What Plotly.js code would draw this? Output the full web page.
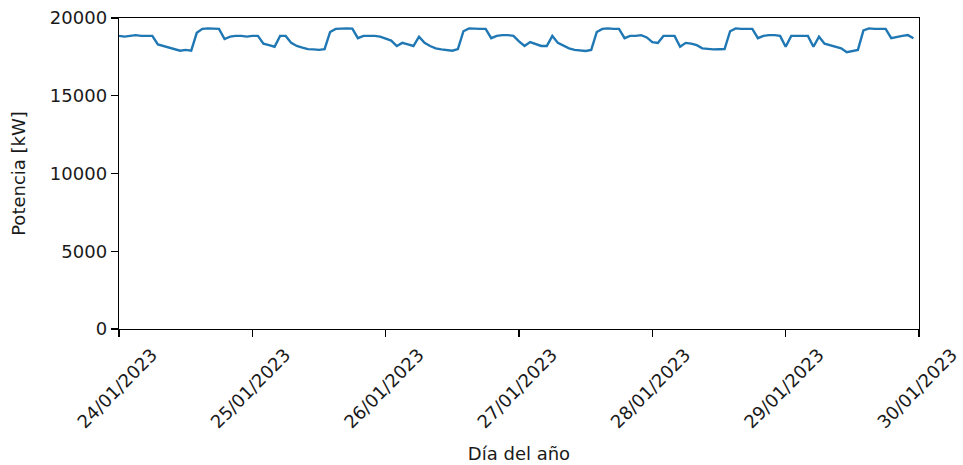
<!DOCTYPE html>
<html>
<head>
<meta charset="utf-8">
<script src="https://cdn.plot.ly/plotly-3.0.1.min.js"></script>
<style>html,body{margin:0;padding:0;background:#fff;}#chart{width:963px;height:465px;}</style>
</head>
<body>
<div id="chart"></div>
<script>
// Hourly power readings starting 24/01/2023 00:00
const startDate = "2023-01-24T00:00:00";
const potencia = [
  // 24/01
  18850,18800,18850,18900,18850,18850,18850,18300,18200,18100,18000,17900,
  17950,17900,19050,19300,19330,19300,19300,18650,18800,18850,18850,18800,
  // 25/01
  18850,18850,18350,18250,18150,18850,18850,18400,18200,18100,18000,17980,
  17950,18000,19100,19300,19330,19330,19320,18700,18850,18850,18850,18800,
  // 26/01
  18700,18550,18200,18400,18300,18200,18800,18400,18200,18050,17980,17930,
  17900,18000,19150,19330,19300,19300,19300,18700,18850,18900,18900,18850,
  // 27/01
  18500,18200,18450,18350,18200,18200,18850,18400,18200,18050,17950,17900,
  17880,17950,19100,19300,19330,19300,19300,18700,18850,18850,18900,18750,
  // 28/01
  18450,18400,18850,18850,18850,18150,18400,18350,18250,18050,18000,17980,
  17990,18000,19150,19330,19300,19300,19300,18700,18850,18900,18900,18850,
  // 29/01
  18150,18850,18850,18850,18850,18150,18800,18350,18250,18150,18050,17800,
  17900,17950,19200,19330,19300,19300,19300,18700,18800,18850,18900,18700
];
const tickDates = ["2023-01-24","2023-01-25","2023-01-26","2023-01-27","2023-01-28","2023-01-29","2023-01-30"];
const tickLabels = ["24/01/2023","25/01/2023","26/01/2023","27/01/2023","28/01/2023","29/01/2023","30/01/2023"];
const yTicks = [0,5000,10000,15000,20000];

const t0 = new Date(startDate + "Z").getTime();
const pad = n => String(n).padStart(2, "0");
const times = potencia.map((_, i) => {
  const d = new Date(t0 + i * 3600000);
  return d.getUTCFullYear() + "-" + pad(d.getUTCMonth()+1) + "-" + pad(d.getUTCDate()) + " " + pad(d.getUTCHours()) + ":00";
});

const font = {family: "DejaVu Sans", size: 18, color: "#1a1a1a"};
const trace = {
  x: times, y: potencia, type: "scatter", mode: "lines",
  line: {color: "#1f77b4", width: 2.4}, hoverinfo: "skip"
};
const layout = {
  width: 963, height: 465,
  margin: {l: 119, r: 44, t: 18, b: 136},
  paper_bgcolor: "#fff", plot_bgcolor: "#fff",
  font: font,
  showlegend: false,
  xaxis: {
    type: "date",
    range: [tickDates[0], tickDates[tickDates.length-1]],
    tickmode: "array", tickvals: tickDates, ticktext: tickLabels,
    tickangle: -45, ticklabelshift: 33, ticklabeloverflow: "allow",
    showline: true, mirror: true, linecolor: "#000", linewidth: 1.3,
    ticks: "outside", ticklen: 7, tickwidth: 1.3, tickcolor: "#000",
    showgrid: false, zeroline: false,
    tickfont: font,
    title: {text: "Día del año", font: font, standoff: 16}
  },
  yaxis: {
    range: [0, 20000],
    tickmode: "array", tickvals: yTicks, ticktext: yTicks.map(String),
    showline: true, mirror: true, linecolor: "#000", linewidth: 1.3,
    ticks: "outside", ticklen: 7, tickwidth: 1.3, tickcolor: "#000",
    showgrid: false, zeroline: false,
    tickfont: font,
    title: {text: "Potencia [kW]", font: font, standoff: 19}
  }
};
Plotly.newPlot("chart", [trace], layout, {displayModeBar: false, staticPlot: true});
</script>
</body>
</html>
